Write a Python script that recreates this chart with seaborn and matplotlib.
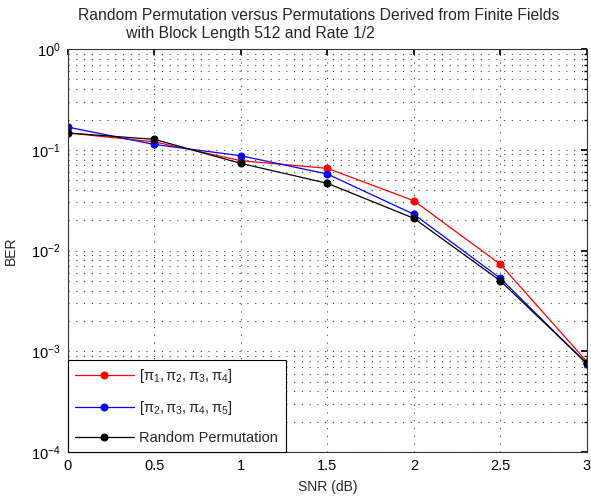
import numpy as np
import pandas as pd
import matplotlib
matplotlib.use("Agg")
import matplotlib.pyplot as plt
import seaborn as sns

snr = [0, 0.5, 1, 1.5, 2, 2.5, 3]
ber_p1234 = [0.147, 0.120, 0.078, 0.0655, 0.0312, 0.0073, 0.00079]
ber_p2345 = [0.168, 0.113, 0.0873, 0.0575, 0.0229, 0.0053, 0.00075]
ber_random = [0.147, 0.127, 0.0733, 0.0465, 0.0209, 0.0050, 0.00076]
labels = [r"$[\pi_1,\pi_2,\pi_3,\pi_4]$", r"$[\pi_2,\pi_3,\pi_4,\pi_5]$", "Random Permutation"]
colors = ["#ff0000", "#0000ff", "#000000"]

sns.set_theme(style="white")
plt.rcParams['font.family'] = ['Liberation Sans', 'DejaVu Sans']
plt.rcParams['mathtext.fontset'] = 'custom'
plt.rcParams['mathtext.rm'] = 'Liberation Sans'
plt.rcParams['mathtext.it'] = 'Liberation Sans'

df = pd.concat([
    pd.DataFrame({"SNR": snr, "BER": ber_p1234, "series": labels[0]}),
    pd.DataFrame({"SNR": snr, "BER": ber_p2345, "series": labels[1]}),
    pd.DataFrame({"SNR": snr, "BER": ber_random, "series": labels[2]}),
])

fig = plt.figure(figsize=(5.91, 4.96), dpi=100)
ax = fig.add_axes([0.115, 0.0887, 0.878, 0.8123])
sns.lineplot(data=df, x="SNR", y="BER", hue="series", palette=colors,
             marker="o", markersize=5, markeredgecolor=None, linewidth=0.9, ax=ax)
for ln, c in zip(ax.lines, colors):
    ln.set_markeredgecolor(c)
    ln.set_markerfacecolor(c)
ax.set_yscale("log")
ax.set_xlim(0, 3)
ax.set_ylim(1e-4, 1)
ax.set_xticks([0, 0.5, 1, 1.5, 2, 2.5, 3])
ax.set_xticklabels(["0", "0.5", "1", "1.5", "2", "2.5", "3"])
ax.set_xlabel("SNR (dB)", fontsize=10, labelpad=5)
ax.set_ylabel("BER", fontsize=10, labelpad=10)
ax.set_title("Random Permutation versus Permutations Derived from Finite Fields\n           with Block Length 512 and Rate 1/2",
             fontsize=11.3, loc="left", x=0.02, pad=8, linespacing=1.25, ha="left")
grid_kw = dict(linestyle=(0, (1, 6)), color="#444444", linewidth=0.8)
ax.grid(True, which="major", axis="both", **grid_kw)
ax.grid(True, which="minor", axis="y", **grid_kw)
ax.tick_params(axis="both", which="both", direction="in", top=True, right=True, labelsize=10.5, colors="#000000")
ax.tick_params(which="major", length=4, pad=5)
ax.tick_params(which="minor", length=2)
for s in ax.spines.values():
    s.set_color("#333333")
    s.set_linewidth(0.8)
leg = ax.legend(loc="lower left", borderaxespad=0, fancybox=False, framealpha=1,
                edgecolor="#000000", fontsize=10.5, title=None, handlelength=4.0,
                handletextpad=0.4, labelspacing=0.95, borderpad=0.5)
leg.get_frame().set_linewidth(0.8)
fig.savefig("out.png", dpi=100)
